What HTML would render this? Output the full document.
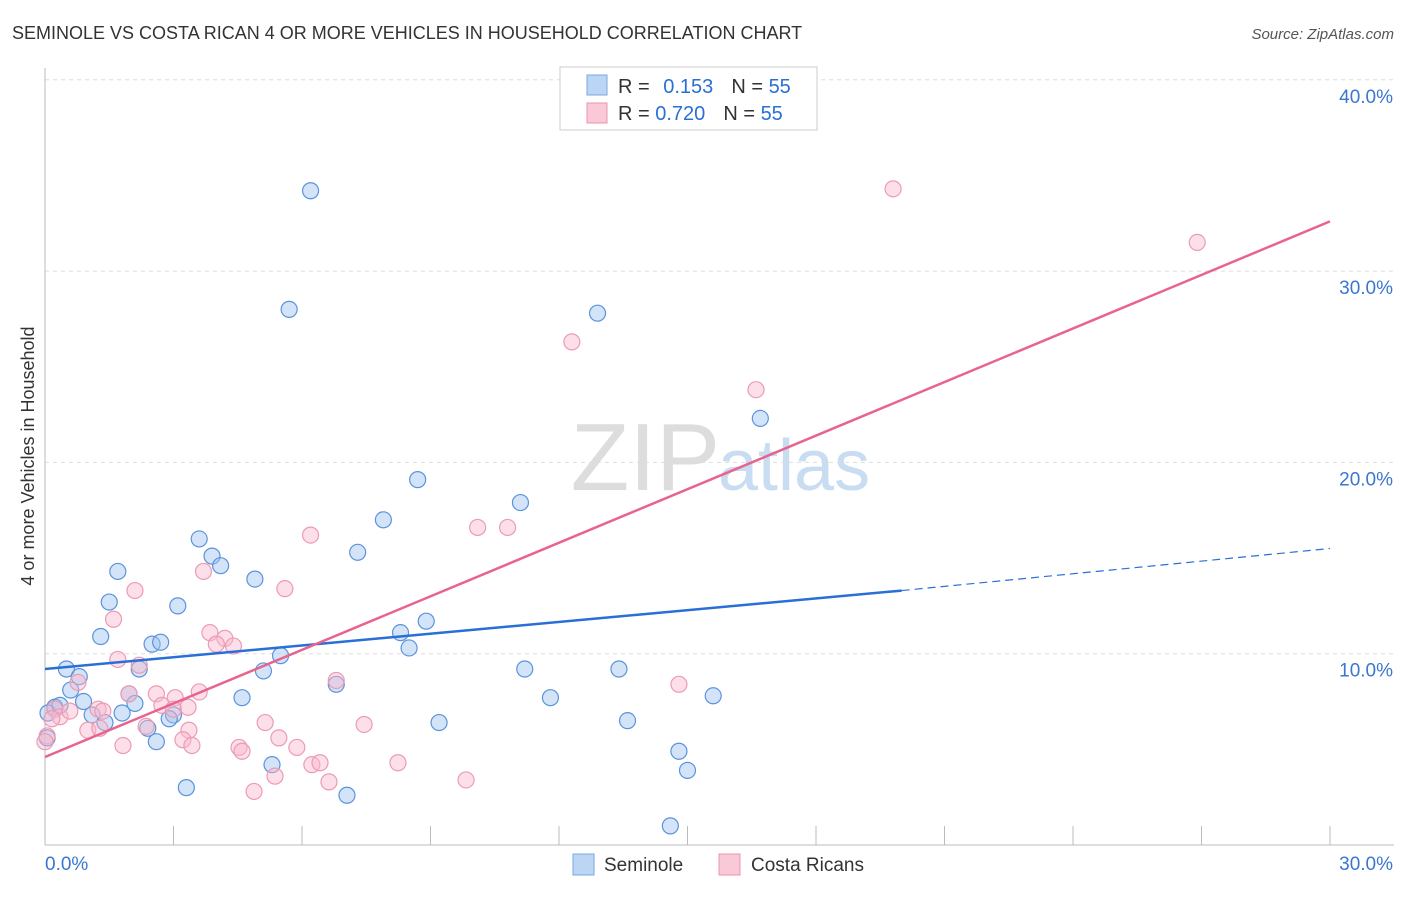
<!DOCTYPE html>
<html><head><meta charset="utf-8"><style>
body{margin:0;background:#fff;font-family:"Liberation Sans",sans-serif;}
svg text{font-family:"Liberation Sans",sans-serif;}
</style></head><body>
<svg id="chart" width="1406" height="892" xmlns="http://www.w3.org/2000/svg">
<text x="12" y="39" font-size="18" fill="#333">SEMINOLE VS COSTA RICAN 4 OR MORE VEHICLES IN HOUSEHOLD CORRELATION CHART</text>
<text x="1394" y="39" font-size="15" fill="#555" font-style="italic" text-anchor="end">Source: ZipAtlas.com</text>
<text x="720" y="490" font-size="96" fill="#ddd" text-anchor="end" font-family="Liberation Serif">ZIP</text>
<text x="718" y="490" font-size="72" fill="#c8dcf2">atlas</text>
<g id="grid"></g>
<g id="axes"></g>
<g id="pts"></g>
<g id="lines"></g>
<text transform="translate(34,456) rotate(-90)" font-size="18" fill="#333" text-anchor="middle">4 or more Vehicles in Household</text>
<g>
<rect x="560" y="67" width="257" height="63" fill="#fff" stroke="#ccc"/>
<rect x="587" y="75" width="20" height="20" fill="#bcd5f5" stroke="#7aa7e0"/>
<rect x="587" y="103" width="20" height="20" fill="#f9c9d7" stroke="#eb93ae"/>
<text x="618" y="93" font-size="20" fill="#333">R = <tspan fill="#2a6fd6" dx="8">0.153</tspan><tspan dx="18" fill="#333">N = </tspan><tspan fill="#2a6fd6">55</tspan></text>
<text x="618" y="120" font-size="20" fill="#333">R = <tspan fill="#2a6fd6">0.720</tspan><tspan dx="18" fill="#333">N = </tspan><tspan fill="#2a6fd6">55</tspan></text>
</g>
<g>
<rect x="573" y="854" width="21" height="21" fill="#bcd5f5" stroke="#7aa7e0"/>
<text x="604" y="871" font-size="19" fill="#333">Seminole</text>
<rect x="719" y="854" width="21" height="21" fill="#f9c9d7" stroke="#eb93ae"/>
<text x="751" y="871" font-size="19" fill="#333">Costa Ricans</text>
</g>
</svg>
<script>
const yTicks=[10,20,30,40];
const xTickLabels=["0.0%","30.0%"];
const blueX=[6.2,5.7,12.9,16.7,8.7,11.1,7.9,3.6,3.9,4.1,7.3,1.7,4.9,1.5,3.1,1.3,2.5,2.7,8.3,8.9,8.5,5.5,5.1,2.2,0.5,0.8,0.6,1.96,0.9,2.1,0.23,0.07,1.1,1.8,1.4,3.0,2.9,2.4,2.6,4.6,6.8,11.2,11.8,13.4,15.6,9.2,13.6,5.3,3.3,7.05,14.8,15.0,14.6,0.05,0.35];
const blueY=[34.2,28.0,27.8,22.3,19.1,17.9,17.0,16.0,15.1,14.6,15.3,14.3,13.9,12.7,12.5,10.9,10.5,10.6,11.1,11.7,10.3,9.9,9.1,9.2,9.2,8.8,8.1,7.9,7.5,7.4,7.2,6.9,6.8,6.9,6.4,6.8,6.6,6.1,5.4,7.7,8.4,9.2,7.7,9.2,7.8,6.4,6.5,4.2,3.0,2.6,4.9,3.9,1.0,5.6,7.3];
const pinkX=[19.8,26.9,12.3,16.6,10.1,10.8,6.2,3.7,5.6,2.1,1.6,3.85,4.2,4.0,4.4,1.7,2.2,6.8,0.77,1.96,2.6,3.6,3.04,2.73,3.0,3.34,1.24,1.35,0.23,0.35,0.58,1.0,1.28,2.36,3.36,3.22,3.43,1.82,5.14,7.45,4.53,4.6,5.46,5.88,6.23,6.42,5.37,6.63,8.24,9.83,14.8,4.88,0.05,0.0,0.16];
const pinkY=[34.3,31.5,26.3,23.8,16.6,16.6,16.2,14.3,13.4,13.3,11.8,11.1,10.8,10.5,10.4,9.7,9.4,8.6,8.5,7.9,7.9,8.0,7.7,7.3,7.1,7.2,7.1,7.0,7.1,6.7,7.0,6.0,6.1,6.2,6.0,5.5,5.2,5.2,6.4,6.3,5.1,4.9,5.6,5.1,4.2,4.3,3.6,3.3,4.3,3.4,8.4,2.8,5.7,5.4,6.6];
const blueLine=[[0,9.2],[20,13.3],[30,15.5]];
const pinkLine=[[0,4.6],[30,32.6]];
const NS="http://www.w3.org/2000/svg";
const xs=v=>45+v*1285/30, ys=v=>845-v*19.13;
function mk(t,a,p){const e=document.createElementNS(NS,t);for(const k in a)e.setAttribute(k,a[k]);p.appendChild(e);return e;}
const grid=document.getElementById('grid'),axes=document.getElementById('axes'),pts=document.getElementById('pts'),lines=document.getElementById('lines');
yTicks.forEach(t=>{
 const l=mk('line',{x1:45,x2:1394,y1:ys(t),y2:ys(t),stroke:'#ddd','stroke-dasharray':'4,4'},grid);
 
 
 const tx=mk('text',{x:1393,y:ys(t)+23,'font-size':19,fill:'#3b76d1','text-anchor':'end'},grid);
 tx.textContent=t.toFixed(1)+'%';
 
 
});
mk('line',{x1:45,x2:45,y1:68,y2:845,stroke:'#bbb'},axes);
mk('line',{x1:45,x2:1394,y1:845,y2:845,stroke:'#bbb'},axes);
for(let i=0;i<=10;i++){mk('line',{x1:xs(i*3),x2:xs(i*3),y1:826,y2:845,stroke:'#bbb'},axes);}
const xl0=mk('text',{x:45,y:870,'font-size':19,fill:'#3b76d1'},axes);xl0.textContent=xTickLabels[0];


const xl1=mk('text',{x:1393,y:870,'font-size':19,fill:'#3b76d1','text-anchor':'end'},axes);xl1.textContent=xTickLabels[1];


blueX.forEach((v,i)=>{
 const c=mk('circle',{cx:xs(v),cy:ys(blueY[i]),r:8,fill:'rgba(160,196,240,0.45)',stroke:'#5b93dc','stroke-width':1.2},pts);
 
 
});
pinkX.forEach((v,i)=>{
 const c=mk('circle',{cx:xs(v),cy:ys(pinkY[i]),r:8,fill:'rgba(248,185,205,0.45)',stroke:'#ec9bb4','stroke-width':1.2},pts);
 
 
});
const b1=mk('line',{x1:xs(blueLine[0][0]),y1:ys(blueLine[0][1]),x2:xs(blueLine[1][0]),y2:ys(blueLine[1][1]),stroke:'#2a6fd6','stroke-width':2.5},lines);


const b2=mk('line',{x1:xs(blueLine[1][0]),y1:ys(blueLine[1][1]),x2:xs(blueLine[2][0]),y2:ys(blueLine[2][1]),stroke:'#2a6fd6','stroke-width':1.2,'stroke-dasharray':'8,5'},lines);


const p1=mk('line',{x1:xs(pinkLine[0][0]),y1:ys(pinkLine[0][1]),x2:xs(pinkLine[1][0]),y2:ys(pinkLine[1][1]),stroke:'#e8648f','stroke-width':2.5},lines);


</script>
</body></html>
